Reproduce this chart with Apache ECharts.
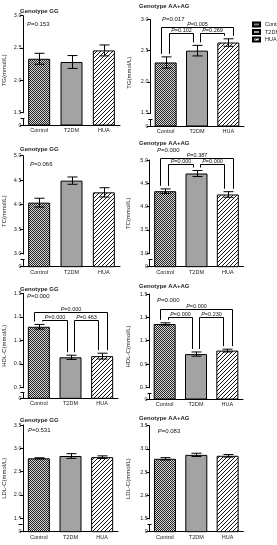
<!DOCTYPE html>
<html>
<head>
<meta charset="utf-8">
<script src="https://cdn.jsdelivr.net/npm/echarts@6/dist/echarts.min.js"></script>
<style>
  html, body { margin: 0; padding: 0; background: #fff; }
  #chart { width: 277px; height: 545px; }
</style>
</head>
<body>
<div id="chart"></div>
<script>
/* 各基因型血脂分组柱状图 */

const categories = ['Control', 'T2DM', 'HUA'];

const tgGgMean = [2.33, 2.28, 2.46];
const tgGgErr = [0.085, 0.10, 0.085];
const tgAaMean = [2.31, 2.50, 2.63];
const tgAaErr = [0.09, 0.085, 0.06];

const tcGgMean = [4.04, 4.49, 4.25];
const tcGgErr = [0.09, 0.075, 0.095];
const tcAaMean = [4.33, 4.71, 4.26];
const tcAaErr = [0.05, 0.065, 0.06];

const hdlGgMean = [1.215, 0.955, 0.965];
const hdlGgErr = [0.02, 0.018, 0.025];
const hdlAaMean = [1.243, 0.985, 1.015];
const hdlAaErr = [0.01, 0.018, 0.012];

const ldlGgMean = [2.785, 2.835, 2.81];
const ldlGgErr = [0.012, 0.05, 0.028];
const ldlAaMean = [2.785, 2.87, 2.85];
const ldlAaErr = [0.025, 0.035, 0.028];

const tgTicks = [1.5, 2.0, 2.5, 3.0];
const tcTicks = [3.0, 3.5, 4.0, 4.5, 5.0];
const hdlTicks = [0.7, 0.9, 1.1, 1.3, 1.5];
const ldlTicks = [1.5, 2.0, 2.5, 3.0, 3.5];

// [组a, 组b, 横线高度, P值]
const tgAaBrackets = [[0, 2, 2.88, '0.005'], [0, 1, 2.78, '0.102'], [1, 2, 2.78, '0.269']];
const tcAaBrackets = [[0, 2, 5.04, '0.387'], [0, 1, 4.91, '0.000'], [1, 2, 4.91, '0.000']];
const hdlGgBrackets = [[0, 2, 1.343, '0.000'], [0, 1, 1.272, '0.000'], [1, 2, 1.272, '0.463']];
const hdlAaBrackets = [[0, 2, 1.369, '0.000'], [0, 1, 1.305, '0.000'], [1, 2, 1.305, '0.230']];

const FONT = '"Liberation Sans", Arial, sans-serif';

const panels = [
  { title: 'Genotype GG', p: '0.153', name: 'TG(mmol/L)', mean: tgGgMean, err: tgGgErr, ticks: tgTicks, min: 1.3, max: 3.0, brackets: [],
    grid: { left: 22, top: 15.7, width: 98, height: 109.3 }, t: [20, 8], pt: [27, 21], gap: 16 },
  { title: 'Genotype AA+AG', p: '0.017', name: 'TG(mmol/L)', mean: tgAaMean, err: tgAaErr, ticks: tgTicks, min: 1.29, max: 3.0, brackets: tgAaBrackets,
    grid: { left: 150, top: 19.5, width: 94, height: 106.5 }, t: [139, 3], pt: [162, 16], gap: 18 },
  { title: 'Genotype GG', p: '0.066', name: 'TC(mmol/L)', mean: tcGgMean, err: tcGgErr, ticks: tcTicks, min: 2.73, max: 5.0, brackets: [],
    grid: { left: 22, top: 155.7, width: 98, height: 111 }, t: [20, 146], pt: [30, 161], gap: 16 },
  { title: 'Genotype AA+AG', p: '0.000', name: 'TC(mmol/L)', mean: tcAaMean, err: tcAaErr, ticks: tcTicks, min: 2.71, max: 5.0, brackets: tcAaBrackets,
    grid: { left: 149.5, top: 160, width: 94, height: 106.7 }, t: [139, 140.5], pt: [157, 147], gap: 18 },
  { title: 'Genotype GG', p: '0.000', name: 'HDL-C(mmol/L)', mean: hdlGgMean, err: hdlGgErr, ticks: hdlTicks, min: 0.606, max: 1.5, brackets: hdlGgBrackets,
    grid: { left: 22, top: 293.3, width: 96, height: 105 }, t: [20, 286.5], pt: [27, 293.7], gap: 16 },
  { title: 'Genotype AA+AG', p: '0.000', name: 'HDL-C(mmol/L)', mean: hdlAaMean, err: hdlAaErr, ticks: hdlTicks, min: 0.6, max: 1.5, brackets: hdlAaBrackets,
    grid: { left: 149, top: 294, width: 94, height: 105 }, t: [139, 283], pt: [157, 297], gap: 18 },
  { title: 'Genotype GG', p: '0.531', name: 'LDL-C(mmol/L)', mean: ldlGgMean, err: ldlGgErr, ticks: ldlTicks, min: 1.21, max: 3.5, brackets: [],
    grid: { left: 20, top: 425, width: 98, height: 106.7 }, t: [20, 417], pt: [28, 427], gap: 16 },
  { title: 'Genotype AA+AG', p: '0.083', name: 'LDL-C(mmol/L)', mean: ldlAaMean, err: ldlAaErr, ticks: ldlTicks, min: 1.21, max: 3.5, brackets: [],
    grid: { left: 149.3, top: 425.7, width: 94, height: 106 }, t: [139, 415.3], pt: [157.7, 428] , gap: 18 }
];

function makePattern(size, draw) {
  const c = document.createElement('canvas');
  c.width = size; c.height = size;
  const ctx = c.getContext('2d');
  const img = ctx.createImageData(size, size);
  for (let y = 0; y < size; y++) {
    for (let x = 0; x < size; x++) {
      const v = draw(x, y);
      const k = (y * size + x) * 4;
      img.data[k] = img.data[k + 1] = img.data[k + 2] = v;
      img.data[k + 3] = 255;
    }
  }
  ctx.putImageData(img, 0, 0);
  return c;
}

const checkPat = makePattern(2, (x, y) => ((x + y) % 2 === 0) ? 35 : 215);
const hatchPat = makePattern(4, (x, y) => ((x + y) % 4 === 3) ? 20 : 255);

const groupColors = [
  { image: checkPat, repeat: 'repeat' },
  '#a3a3a3',
  { image: hatchPat, repeat: 'repeat' }
];

const chart = echarts.init(document.getElementById('chart'), null, { renderer: 'canvas' });

const titles = [];
const grids = [];
const xAxes = [];
const yAxes = [];
const series = [];

const richP = { i: { fontStyle: 'italic', fontSize: 6, fontFamily: FONT, color: '#111' } };

panels.forEach((pn, pi) => {
  titles.push({
    text: pn.title, left: pn.t[0], top: pn.t[1], padding: 0,
    textStyle: { fontSize: 6, fontWeight: 'bold', fontFamily: FONT, color: '#222' }
  });
  titles.push({
    text: '{i|P}=' + pn.p, left: pn.pt[0], top: pn.pt[1], padding: 0,
    textStyle: { fontSize: 6, fontWeight: 'normal', fontFamily: FONT, color: '#111', rich: richP }
  });

  grids.push(pn.grid);

  xAxes.push({
    type: 'category', gridIndex: pi, data: categories,
    axisLine: { lineStyle: { color: '#000', width: 1 } },
    axisTick: { alignWithLabel: true, length: 2, lineStyle: { color: '#000' } },
    axisLabel: { fontSize: 5.5, fontFamily: FONT, color: '#222', margin: 2.5 }
  });

  const vals = [pn.min].concat(pn.ticks);
  yAxes.push({
    type: 'value', gridIndex: pi, min: pn.min, max: pn.max,
    name: pn.name, nameLocation: 'middle', nameGap: pn.gap, nameRotate: 90,
    nameTextStyle: { fontSize: 6, fontFamily: FONT, color: '#222' },
    splitLine: { show: false },
    axisLine: { show: true, lineStyle: { color: '#000', width: 1 } },
    axisTick: { show: true, length: 3, customValues: vals, lineStyle: { color: '#000' } },
    axisLabel: {
      fontSize: 5.5, fontFamily: FONT, color: '#222', margin: 1.5,
      customValues: vals,
      formatter: v => (Math.abs(v - pn.min) < 1e-6 ? '0' : v.toFixed(1))
    }
  });

  categories.forEach((cat, ci) => {
    series.push({
      type: 'bar', name: cat, xAxisIndex: pi, yAxisIndex: pi,
      barWidth: 22, barGap: '-100%',
      itemStyle: { color: groupColors[ci], borderColor: '#000', borderWidth: 1 },
      emphasis: { disabled: true },
      data: categories.map((c, k) => (k === ci ? pn.mean[k] : '-'))
    });
  });

  series.push({
    type: 'custom', xAxisIndex: pi, yAxisIndex: pi, z: 5, silent: true,
    data: pn.mean.map((m, k) => [k, m - pn.err[k], m + pn.err[k]]),
    encode: { x: 0, y: [1, 2] },
    renderItem: (params, api) => {
      const top = api.coord([api.value(0), api.value(2)]);
      const bot = api.coord([api.value(0), api.value(1)]);
      const x = Math.round(top[0]) + 0.5;
      const st = { stroke: '#000', lineWidth: 1 };
      return {
        type: 'group', children: [
          { type: 'line', shape: { x1: x, y1: top[1], x2: x, y2: bot[1] }, style: st },
          { type: 'line', shape: { x1: x - 5, y1: top[1], x2: x + 5, y2: top[1] }, style: st },
          { type: 'line', shape: { x1: x - 5, y1: bot[1], x2: x + 5, y2: bot[1] }, style: st }
        ]
      };
    }
  });

  if (pn.brackets.length) {
    series.push({
      type: 'custom', xAxisIndex: pi, yAxisIndex: pi, z: 6, silent: true, clip: false,
      data: pn.brackets.map(b => [b[0], b[2]]),
      encode: { x: 0, y: 1 },
      renderItem: (params, api) => {
        const b = pn.brackets[params.dataIndex];
        const outer = (b[0] === 0 && b[1] === 2);
        const pa = api.coord([b[0], b[2]]);
        const pb = api.coord([b[1], b[2]]);
        const xa = Math.round(pa[0] + (outer ? -5 : 3)) + 0.5;
        const xb = Math.round(pb[0] + (outer ? 5 : -4)) + 0.5;
        const y = Math.round(pa[1]) + 0.5;
        const ya = api.coord([b[0], pn.mean[b[0]] + pn.err[b[0]]])[1] - 3;
        const yb = api.coord([b[1], pn.mean[b[1]] + pn.err[b[1]]])[1] - 3;
        return {
          type: 'group', children: [
            { type: 'polyline', shape: { points: [[xa, ya], [xa, y], [xb, y], [xb, yb]] },
              style: { stroke: '#000', lineWidth: 1, fill: null } },
            { type: 'text', style: {
                text: '{i|P}=' + b[3], x: (xa + xb) / 2, y: y - 0.5,
                align: 'center', verticalAlign: 'bottom',
                fontSize: 5.5, fontFamily: FONT, fill: '#111',
                rich: { i: { fontStyle: 'italic', fontSize: 5.5, fontFamily: FONT, fill: '#111' } }
              } }
          ]
        };
      }
    });
  }
});

chart.setOption({
  backgroundColor: '#fff',
  animation: false,
  title: titles,
  legend: {
    data: categories, left: 252, top: 21.5, orient: 'vertical', padding: 0,
    icon: 'rect', itemWidth: 7, itemHeight: 4, itemGap: 1.5,
    textStyle: { fontSize: 5.5, fontFamily: FONT, color: '#222', lineHeight: 5 }
  },
  grid: grids,
  xAxis: xAxes,
  yAxis: yAxes,
  series: series
});

// 纵轴断点
const breaks = [];
panels.forEach((pn, pi) => {
  const yt = chart.convertToPixel({ yAxisIndex: pi }, pn.ticks[0]);
  const y0 = chart.convertToPixel({ yAxisIndex: pi }, pn.min);
  const x = Math.round(pn.grid.left) + 0.5;
  const yc = Math.round(yt + (y0 - yt) * 0.45) + 0.5;
  breaks.push({ type: 'rect', shape: { x: x - 1.5, y: yt + 1, width: 3, height: yc - yt - 1.5 }, style: { fill: '#fff' }, z: 100 });
  breaks.push({ type: 'line', shape: { x1: x - 2, y1: yc, x2: x + 2, y2: yc }, style: { stroke: '#000', lineWidth: 1 }, z: 100 });
});
chart.setOption({ graphic: breaks });
</script>
</body>
</html>
